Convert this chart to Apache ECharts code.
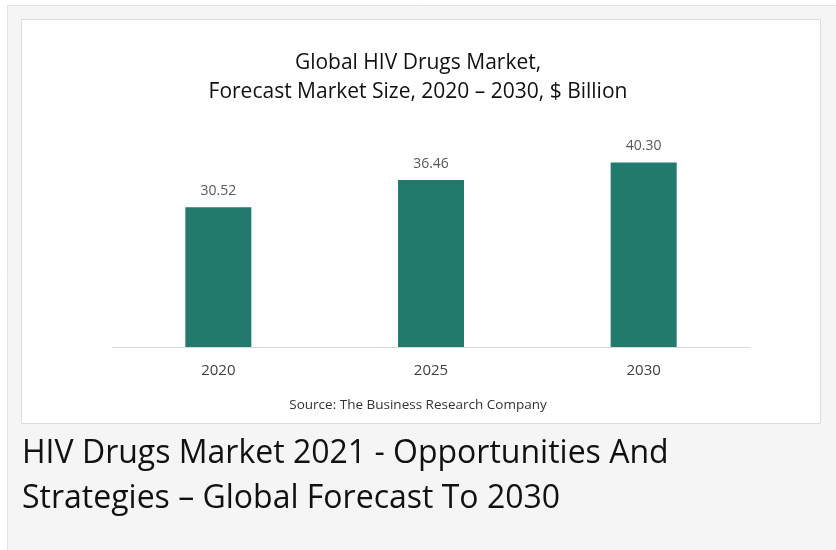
<!DOCTYPE html>
<html>
<head>
<meta charset="utf-8">
<script src="https://cdn.jsdelivr.net/npm/echarts@6/dist/echarts.min.js"></script>
<style>
html,body{margin:0;padding:0;background:#fff;}
#chart{width:836px;height:550px;}
</style>
</head>
<body>
<div id="chart"></div>
<script>
var categories = ['2020', '2025', '2030'];
var marketSize = [30.52, 36.46, 40.30];
var titleLines = ['Global HIV Drugs Market,', 'Forecast Market Size, 2020 \u2013 2030, $ Billion'];
var sourceText = 'Source: The Business Research Company';
var captionLines = ['HIV Drugs Market 2021 - Opportunities And', 'Strategies \u2013 Global Forecast To 2030'];

var chart = echarts.init(document.getElementById('chart'), null, {renderer: 'canvas'});
var font = '"Open Sans", "Noto Sans", sans-serif';
chart.setOption({
  backgroundColor: '#ffffff',
  animation: false,
  textStyle: {fontFamily: font},
  graphic: [
    {type: 'rect', z: -10, silent: true, shape: {x: 7.5, y: 5.5, width: 840, height: 560},
     style: {fill: '#f5f5f5', stroke: '#e4e4e4', lineWidth: 1}},
    {type: 'rect', z: -9, silent: true, shape: {x: 21.5, y: 19.5, width: 799, height: 404},
     style: {fill: '#ffffff', stroke: '#dcdcdc', lineWidth: 1}},
    {type: 'text', left: 'center', top: 398, silent: true,
     style: {text: sourceText, font: '13.5px ' + font, fill: '#333333'}},
    {type: 'text', left: 22, top: 431, silent: true,
     style: {text: captionLines.join('\n'), font: '32px ' + font, lineHeight: 45, fill: '#111111'}}
  ],
  title: {
    text: titleLines.join('\n'),
    left: 'center',
    top: 44,
    textStyle: {fontFamily: font, fontSize: 21, fontWeight: 'normal', color: '#111111', lineHeight: 29}
  },
  grid: {left: 112, right: 86, top: 141, bottom: 203},
  xAxis: {
    type: 'category',
    data: categories,
    axisLine: {lineStyle: {color: '#d9d9d9', width: 1}},
    axisTick: {show: false},
    axisLabel: {fontSize: 15, color: '#404040', margin: 16, fontFamily: font}
  },
  yAxis: {
    type: 'value',
    min: 0,
    max: 45,
    show: false,
    splitLine: {show: false}
  },
  series: [{
    type: 'bar',
    data: marketSize,
    barWidth: 66,
    itemStyle: {color: '#217a6b'},
    label: {
      show: true,
      position: 'top',
      distance: 9,
      fontSize: 14,
      color: '#595959',
      fontFamily: font,
      formatter: function (p) { return p.value.toFixed(2); }
    }
  }]
});
</script>
</body>
</html>
